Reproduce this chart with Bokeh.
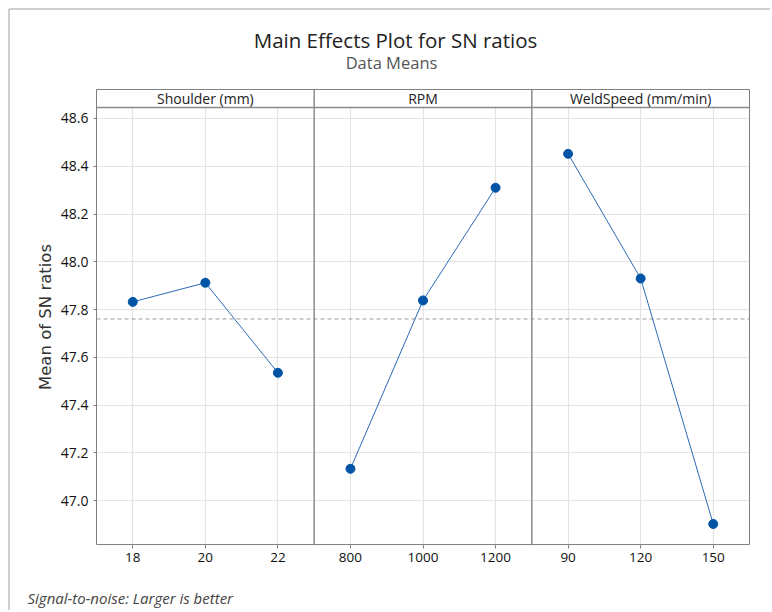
import numpy as np
from bokeh.plotting import figure
from bokeh.models import Range1d, LinearAxis, FixedTicker, Grid, BoxAnnotation, NumeralTickFormatter
from bokeh.core.properties import value
from bokeh.embed import file_html
from bokeh.resources import INLINE

# ---------------- data ----------------
factor_names = ["Shoulder (mm)", "RPM", "WeldSpeed (mm/min)"]
shoulder_levels = [18, 20, 22]
shoulder_sn = [47.832, 47.912, 47.535]
rpm_levels = [800, 1000, 1200]
rpm_sn = [47.133, 47.838, 48.310]
weld_levels = [90, 120, 150]
weld_sn = [48.452, 47.930, 46.902]
y_ticks = [47.0, 47.2, 47.4, 47.6, 47.8, 48.0, 48.2, 48.4, 48.6]
title_text = "Main Effects Plot for SN ratios"
subtitle_text = "Data Means"
y_label = "Mean of SN ratios"
footnote_text = "Signal-to-noise: Larger is better"

levels = [shoulder_levels, rpm_levels, weld_levels]
values = [shoulder_sn, rpm_sn, weld_sn]

# ---------------- layout (pixels) ----------------
W, H = 770, 610
PL, PR = 96, 749          # data area left / right
PT, PB = 107, 544         # data area top / bottom
ST = 89                   # strip top
panel_limits = [(17, 23), (700, 1300), (75, 165)]
y_lo, y_hi = 46.816, 48.646

pw = (PR - PL) / 3.0
range_names = ["default", "rpm", "weld"]
ranges = []
scales = []
for i, (lo, hi) in enumerate(panel_limits):
    s = (hi - lo) / pw
    start = lo - (PL + i * pw) * s
    ranges.append(Range1d(start, start + W * s))
    scales.append((start, s))

sy = (y_hi - y_lo) / (PB - PT)
yr = Range1d(y_lo - (H - PB) * sy, y_hi + PT * sy)


def xd(px, i=0):
    start, s = scales[i]
    return start + px * s


def yd(py):
    return y_hi + (PT - py) * sy


FONT = "Open Sans"
BLUE = "#0054A6"
LINE_BLUE = "#2a6bb8"
GRID = "#e3e3e3"
FRAME = "#808080"
STRIP = "#8c8c8c"

p = figure(width=W, height=H, output_backend="svg", toolbar_location=None,
           x_range=ranges[0], y_range=yr, x_axis_location=None, y_axis_location=None,
           title=None, min_border=0)
p.extra_x_ranges = {"rpm": ranges[1], "weld": ranges[2]}
p.background_fill_color = "white"
p.border_fill_color = "white"
p.outline_line_color = None
for g in p.grid:
    g.visible = False

# grids (horizontal + per panel vertical)
p.add_layout(Grid(dimension=1, ticker=FixedTicker(ticks=y_ticks),
                  grid_line_color=GRID, grid_line_width=1.2))
for i in range(3):
    p.add_layout(Grid(dimension=0, ticker=FixedTicker(ticks=levels[i]), x_range_name=range_names[i],
                      grid_line_color=GRID, grid_line_width=1.2))
# white masks so grids only show inside the data area
for kw in (dict(right=xd(PL)), dict(left=xd(PR)), dict(bottom=y_hi), dict(top=y_lo)):
    p.add_layout(BoxAnnotation(fill_color="white", fill_alpha=1.0, line_alpha=0,
                               level="underlay", **kw))

# y axis
yax = LinearAxis(ticker=FixedTicker(ticks=y_ticks), formatter=NumeralTickFormatter(format="0.0"),
                 fixed_location=xd(PL))
yax.axis_line_color = None
yax.major_label_text_font = FONT
yax.major_label_text_font_size = "14px"
yax.major_label_text_color = "#111111"
yax.major_label_standoff = 5
yax.major_tick_line_color = FRAME
yax.major_tick_out = 3
yax.major_tick_in = 0
yax.minor_tick_line_color = None
p.add_layout(yax, "left")

# x axes, one per panel
for i in range(3):
    ax = LinearAxis(x_range_name=range_names[i], ticker=FixedTicker(ticks=levels[i]),
                    fixed_location=y_lo)
    ax.axis_line_color = None
    ax.major_tick_line_color = FRAME
    ax.major_tick_out = 4
    ax.major_tick_in = 0
    ax.minor_tick_line_color = None
    ax.major_label_text_font = FONT
    ax.major_label_text_font_size = "13.5px"
    ax.major_label_text_color = "#111111"
    ax.major_label_standoff = 4
    p.add_layout(ax, "below")

# reference line at the overall mean
mean_sn = float(np.mean(shoulder_sn + rpm_sn + weld_sn))
p.segment(x0=[xd(PL)], x1=[xd(PR)], y0=[mean_sn], y1=[mean_sn],
          line_color="#9a9a9a", line_dash="4 3", line_width=1)

# data
for i in range(3):
    rn = range_names[i]
    p.line(levels[i], values[i], x_range_name=rn, line_color=LINE_BLUE, line_width=1)
    p.scatter(levels[i], values[i], x_range_name=rn, size=9, fill_color=BLUE, line_color=BLUE)

# frame, strips, dividers
p.quad(left=[xd(PL)], right=[xd(PR)], bottom=[y_lo], top=[yd(ST)],
       fill_alpha=0, line_color=FRAME, line_width=1)
p.segment(x0=[xd(PL)], x1=[xd(PR)], y0=[y_hi], y1=[y_hi], line_color=STRIP, line_width=1.5)
for i in range(1, 3):
    lo = panel_limits[i][0]
    p.segment(x0=[lo], x1=[lo], y0=[y_lo], y1=[yd(ST)], x_range_name=range_names[i],
              line_color=STRIP, line_width=1.5)
for i in range(3):
    lo, hi = panel_limits[i]
    p.text(x=[(lo + hi) / 2], y=[(y_hi + yd(ST)) / 2], text=[factor_names[i]],
           x_range_name=range_names[i], text_align="center", text_baseline="middle",
           text_font=value(FONT), text_font_size="14px", text_color="#222222")

# titles, axis label, footnote
p.text(x=[xd(395)], y=[yd(39)], text=[title_text], text_align="center", text_baseline="middle",
       text_font=value(FONT), text_font_size="20.5px", text_color="#222222")
p.text(x=[xd(391)], y=[yd(62)], text=[subtitle_text], text_align="center", text_baseline="middle",
       text_font=value(FONT), text_font_size="16.5px", text_color="#555555")
p.text(x=[xd(45)], y=[(yd(ST) + y_lo) / 2], text=[y_label], angle=np.pi / 2,
       text_align="center", text_baseline="middle",
       text_font=value("DejaVu Sans"), text_font_size="16.5px", text_color="#333333")
p.text(x=[xd(27)], y=[yd(597)], text=[footnote_text], text_align="left", text_baseline="middle",
       text_font=value(FONT), text_font_style="italic", text_font_size="15px", text_color="#444444")

# outer border of the graph window (top and left)
p.segment(x0=[xd(8.5), xd(8.5)], x1=[xd(8.5), xd(W)], y0=[yd(8.5), yd(8.5)], y1=[yd(H), yd(8.5)],
          line_color="#a0a0a0", line_width=1)

open("out.html", "w").write(file_html(p, INLINE))
